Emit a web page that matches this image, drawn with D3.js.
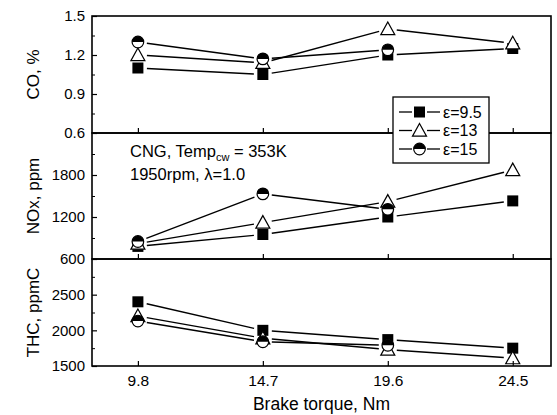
<!DOCTYPE html>
<html><head><meta charset="utf-8">
<script src="https://cdn.jsdelivr.net/npm/d3@7"></script>
<style>body{margin:0;background:#fff}svg{display:block}text{font-family:"Liberation Sans",Arial,sans-serif;fill:#000}</style>
</head><body><div id="chart"></div>
<script>
// ---- data ----
const torque = [9.8, 14.7, 19.6, 24.5];
const seriesNames = ["ε=9.5", "ε=13", "ε=15"];
const markerTypes = ["square", "triangle", "halfcircle"];
const co_e95 = [1.10, 1.05, 1.20, 1.25];
const co_e13 = [1.20, 1.14, 1.40, 1.29];
const co_e15 = [1.30, 1.17, 1.24];
const nox_e95 = [780, 950, 1200, 1430];
const nox_e13 = [820, 1120, 1420, 1870];
const nox_e15 = [850, 1530, 1310];
const thc_e95 = [2400, 2000, 1870, 1750];
const thc_e13 = [2200, 1890, 1730, 1610];
const thc_e15 = [2130, 1840, 1790];
const coTicks = [0.6, 0.9, 1.2, 1.5];
const noxTicks = [600, 1200, 1800];
const thcTicks = [1500, 2000, 2500];
const xTickLabels = ["9.8", "14.7", "19.6", "24.5"];

const W = 557, H = 415;
const svg = d3.select("#chart").append("svg").attr("width", W).attr("height", H);
const x = d3.scaleLinear().domain([8, 26]).range([92, 551]);

const panels = [
  {title: "CO, %", domain: [0.6, 1.5], range: [133, 16], ticks: coTicks, minor: [0.75, 1.05, 1.35], fmt: d3.format(".1f"), data: [co_e95, co_e13, co_e15]},
  {title: "NOx, ppm", domain: [600, 2400], range: [259, 133], ticks: noxTicks, minor: [900, 1500, 2100], fmt: d3.format("d"), data: [nox_e95, nox_e13, nox_e15]},
  {title: "THC, ppmC", domain: [1500, 3000], range: [366, 259], ticks: thcTicks, minor: [1750, 2250, 2750], fmt: d3.format("d"), data: [thc_e95, thc_e13, thc_e15]}
];

function drawMarker(g, type, cx, cy) {
  if (type === "square") {
    g.append("rect").attr("x", cx - 5.5).attr("y", cy - 5.5).attr("width", 11).attr("height", 11).attr("fill", "#000");
  } else if (type === "triangle") {
    const s = 7;
    g.append("path").attr("d", `M${cx},${cy - s}L${cx + s},${cy + s * 0.8}L${cx - s},${cy + s * 0.8}Z`)
      .attr("fill", "#fff").attr("stroke", "#000").attr("stroke-width", 1.2);
  } else {
    const r = 5.8;
    g.append("circle").attr("cx", cx).attr("cy", cy).attr("r", r).attr("fill", "#fff").attr("stroke", "#000").attr("stroke-width", 1.2);
    g.append("path").attr("d", `M${cx - r},${cy}A${r},${r} 0 0 1 ${cx + r},${cy}Z`).attr("fill", "#000");
  }
}

function seg(g, x1, y1, x2, y2, gap) {
  const dx = x2 - x1, dy = y2 - y1, L = Math.hypot(dx, dy);
  const ux = dx / L, uy = dy / L;
  g.append("line").attr("x1", x1 + ux * gap).attr("y1", y1 + uy * gap)
    .attr("x2", x2 - ux * gap).attr("y2", y2 - uy * gap)
    .attr("stroke", "#000").attr("stroke-width", 1.4);
}

panels.forEach((p, pi) => {
  const y = d3.scaleLinear().domain(p.domain).range(p.range);
  const g = svg.append("g");
  p.data.forEach((vals) => {
    const pts = vals.map((v, i) => [x(torque[i]), y(v)]);
    for (let i = 0; i < pts.length - 1; i++) seg(g, pts[i][0], pts[i][1], pts[i + 1][0], pts[i + 1][1], 9);
  });
  p.data.forEach((vals, si) => {
    vals.forEach((v, i) => drawMarker(g, markerTypes[si], x(torque[i]), y(v)));
  });
  svg.append("rect").attr("x", x.range()[0]).attr("y", p.range[1])
    .attr("width", x.range()[1] - x.range()[0]).attr("height", p.range[0] - p.range[1])
    .attr("fill", "none").attr("stroke", "#000").attr("stroke-width", 1.6);
  const ya = svg.append("g").attr("transform", `translate(${x.range()[0]},0)`)
    .call(d3.axisLeft(y).tickValues(p.ticks).tickFormat(p.fmt).tickSize(-5).tickPadding(7));
  ya.select(".domain").remove();
  ya.selectAll("text").style("font-size", "15px").attr("fill", "#000");
  ya.selectAll("line").attr("stroke-width", 1.2);
  const ym = svg.append("g").attr("transform", `translate(${x.range()[0]},0)`)
    .call(d3.axisLeft(y).tickValues(p.minor).tickFormat("").tickSize(-3));
  ym.select(".domain").remove();
  const xa = svg.append("g").attr("transform", `translate(0,${p.range[0]})`)
    .call(d3.axisBottom(x).tickValues(torque).tickFormat((d, i) => xTickLabels[i]).tickSize(-5).tickPadding(9));
  xa.select(".domain").remove();
  xa.selectAll("line").attr("stroke-width", 1.2);
  xa.selectAll("text").style("font-size", "15.5px").attr("fill", "#000");
  if (pi < 2) xa.selectAll("text").remove();
  svg.append("text").attr("transform", `translate(39,${(p.range[0] + p.range[1]) / 2}) rotate(-90)`)
    .attr("text-anchor", "middle").style("font-size", "17px").text(p.title);
});

svg.append("text").attr("x", (x.range()[0] + x.range()[1]) / 2).attr("y", 410)
  .attr("text-anchor", "middle").style("font-size", "17.5px").text("Brake torque, Nm");

const ann = svg.append("text").attr("x", 130).attr("y", 157).style("font-size", "16.5px");
ann.append("tspan").text("CNG, Temp");
ann.append("tspan").attr("dy", 3.5).style("font-size", "11px").text("cw");
ann.append("tspan").attr("dy", -3.5).text(" = 353K");
svg.append("text").attr("x", 130).attr("y", 180).style("font-size", "16.5px").text("1950rpm, λ=1.0");

const lg = svg.append("g");
lg.append("rect").attr("x", 393).attr("y", 97).attr("width", 96).attr("height", 66)
  .attr("fill", "#fff").attr("stroke", "#000").attr("stroke-width", 1.3);
seriesNames.forEach((n, i) => {
  const cy = 112 + i * 18.5;
  lg.append("line").attr("x1", 399).attr("x2", 412).attr("y1", cy).attr("y2", cy).attr("stroke", "#000").attr("stroke-width", 1.3);
  lg.append("line").attr("x1", 427).attr("x2", 440).attr("y1", cy).attr("y2", cy).attr("stroke", "#000").attr("stroke-width", 1.3);
  drawMarker(lg, markerTypes[i], 419.5, cy);
  lg.append("text").attr("x", 443).attr("y", cy + 5.5).style("font-size", "16px").text(n);
});
</script></body></html>
